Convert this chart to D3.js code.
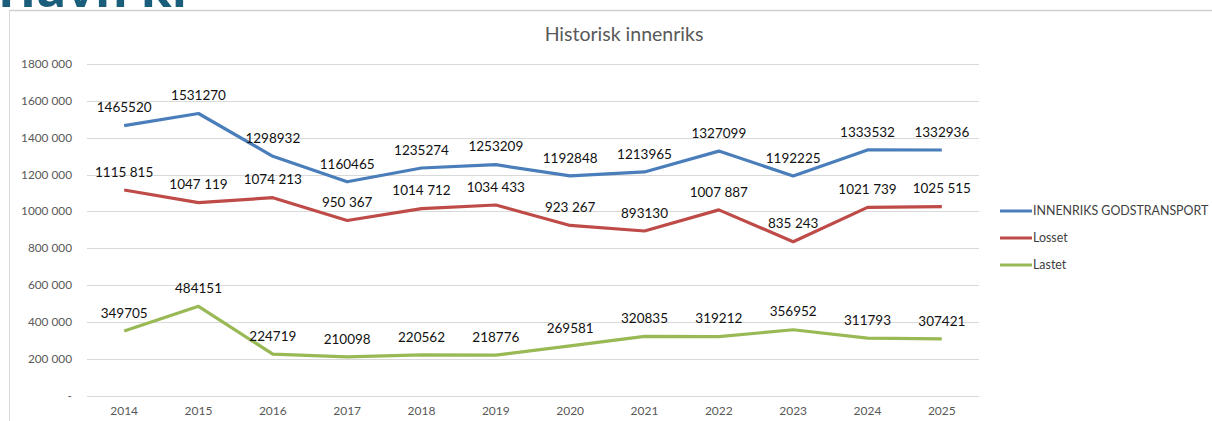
<!DOCTYPE html>
<html>
<head>
<meta charset="utf-8">
<script src="https://cdn.jsdelivr.net/npm/d3@7"></script>
<style>
  body { margin: 0; background: #fff; }
  svg { display: block; font-family: Lato, "Open Sans", sans-serif; }
  .grid line { stroke: #d9d9d9; }
  .ytick { fill: #595959; font-size: 11.8px; }
  .xtick { fill: #595959; font-size: 12px; }
  .dlabel { fill: #111; font-size: 13.5px; }
  .legend text { fill: #404040; font-size: 12.4px; }
</style>
</head>
<body>
<svg id="chart"></svg>
<script>
const years = ['2014','2015','2016','2017','2018','2019','2020','2021','2022','2023','2024','2025'];

const innenriks = [1465520, 1531270, 1298932, 1160465, 1235274, 1253209, 1192848, 1213965, 1327099, 1192225, 1333532, 1332936];
const losset = [1115815, 1047119, 1074213, 950367, 1014712, 1034433, 923267, 893130, 1007887, 835243, 1021739, 1025515];
const lastet = [349705, 484151, 224719, 210098, 220562, 218776, 269581, 320835, 319212, 356952, 311793, 307421];

const innenriksLabels = ['1465520','1531270','1298932','1160465','1235274','1253209','1192848','1213965','1327099','1192225','1333532','1332936'];
const lossetLabels = ['1115 815','1047 119','1074 213','950 367','1014 712','1034 433','923 267','893130','1007 887','835 243','1021 739','1025 515'];
const lastetLabels = ['349705','484151','224719','210098','220562','218776','269581','320835','319212','356952','311793','307421'];

const yTicks = [0, 200000, 400000, 600000, 800000, 1000000, 1200000, 1400000, 1600000, 1800000];
const yTickLabels = ['-', '200 000', '400 000', '600 000', '800 000', '1000 000', '1200 000', '1400 000', '1600 000', '1800 000'];

const seriesNames = ['INNENRIKS GODSTRANSPORT', 'Losset', 'Lastet'];
const colors = ['#4a7ebb', '#be4b48', '#98b954'];

const W = 1212, H = 421;
const svg = d3.select('#chart').attr('width', W).attr('height', H);

// header remnant + frame
svg.append('text').attr('x', -2).attr('y', 7)
  .attr('fill', '#1b5e7b').attr('font-size', 50).attr('font-weight', 700)
  .attr('font-family', '"Open Sans", sans-serif').text('Havn ki');
svg.append('line').attr('x1', 9.5).attr('x2', W).attr('y1', 10.5).attr('y2', 10.5)
  .attr('stroke', '#d0d0d0').attr('stroke-width', 1.5);
svg.append('line').attr('x1', 9.5).attr('x2', 9.5).attr('y1', 10.5).attr('y2', H)
  .attr('stroke', '#d9d9d9');

const plot = { left: 87, right: 979, top: 64, bottom: 395.5 };

const x = d3.scaleBand().domain(years).range([plot.left, plot.right]);
const y = d3.scaleLinear().domain([0, 1800000]).range([plot.bottom, plot.top]);
const cx = d => x(d) + x.bandwidth() / 2;

svg.append('text').attr('x', 624).attr('y', 41).attr('text-anchor', 'middle')
  .attr('fill', '#595959').attr('font-size', 19.5).text('Historisk innenriks');

const grid = svg.append('g').attr('class', 'grid');
grid.selectAll('line').data(yTicks).join('line')
  .attr('x1', plot.left).attr('x2', plot.right)
  .attr('y1', d => Math.round(y(d)) + 0.5).attr('y2', d => Math.round(y(d)) + 0.5);

svg.append('g').selectAll('text').data(yTicks).join('text')
  .attr('class', 'ytick').attr('x', 72).attr('y', d => y(d)).attr('dy', '0.35em')
  .attr('text-anchor', 'end').text((d, i) => yTickLabels[i]);

svg.append('g').selectAll('text').data(years).join('text')
  .attr('class', 'xtick').attr('x', d => cx(d)).attr('y', 415)
  .attr('text-anchor', 'middle').text(d => d);

const series = [
  { values: innenriks, labels: innenriksLabels },
  { values: losset, labels: lossetLabels },
  { values: lastet, labels: lastetLabels }
];

const line = d3.line().x((d, i) => cx(years[i])).y(d => y(d));

series.forEach((s, k) => {
  svg.append('path').datum(s.values)
    .attr('fill', 'none').attr('stroke', colors[k]).attr('stroke-width', 3.2)
    .attr('stroke-linejoin', 'round').attr('d', line);
});

series.forEach(s => {
  svg.append('g').selectAll('text').data(s.values).join('text')
    .attr('class', 'dlabel')
    .attr('x', (d, i) => cx(years[i]))
    .attr('y', d => y(d) - 18).attr('dy', '0.35em')
    .attr('text-anchor', 'middle')
    .text((d, i) => s.labels[i]);
});

const legend = svg.append('g').attr('class', 'legend');
const lg = legend.selectAll('g').data(seriesNames).join('g')
  .attr('transform', (d, i) => `translate(1000,${211 + i * 27})`);
lg.append('line').attr('x1', 0).attr('x2', 32).attr('stroke', (d, i) => colors[i]).attr('stroke-width', 3);
lg.append('text').attr('x', 33).attr('dy', '0.35em').text(d => d);
</script>
</body>
</html>
